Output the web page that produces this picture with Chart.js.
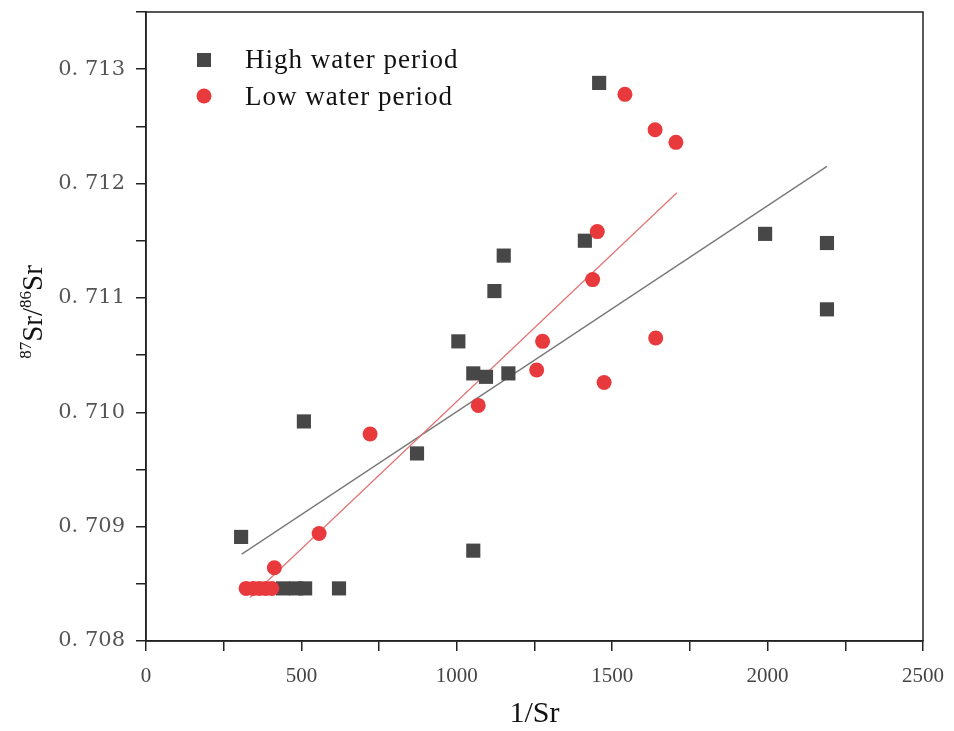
<!DOCTYPE html>
<html>
<head>
<meta charset="utf-8">
<script src="https://cdn.jsdelivr.net/npm/chart.js@4.4.1/dist/chart.umd.min.js"></script>
<style>
html,body{margin:0;padding:0;background:#fff;}
#wrap{width:954px;height:731px;}
</style>
</head>
<body>
<div id="wrap"><canvas id="c" width="954" height="731"></canvas></div>
<script>
// ---- data ----
const seriesNames = ["High water period", "Low water period"];
const highX = [306, 508, 441, 483, 512, 621, 1053, 872, 1005, 1053, 1094, 1166, 1121, 1151, 1412, 1458, 1992, 2191, 2191];
const highY = [0.70891, 0.70992, 0.70846, 0.70846, 0.70846, 0.70846, 0.70879, 0.70964, 0.71062, 0.71034, 0.71031, 0.71034, 0.71106, 0.71137, 0.71150, 0.71288, 0.71156, 0.71148, 0.71090];
const lowX = [322, 345, 365, 385, 405, 413, 557, 721, 1069, 1257, 1276, 1474, 1640, 1437, 1452, 1541, 1638, 1705];
const lowY = [0.70846, 0.70846, 0.70846, 0.70846, 0.70846, 0.70864, 0.70894, 0.70981, 0.71006, 0.71037, 0.71062, 0.71026, 0.71065, 0.71116, 0.71158, 0.71278, 0.71247, 0.71236];
const highFitX = [308, 2191];
const highFitY = [0.70876, 0.71215];
const lowFitX = [335, 1708];
const lowFitY = [0.70838, 0.71192];
const xTickValues = [0, 500, 1000, 1500, 2000, 2500];
const yTickValues = [0.708, 0.709, 0.710, 0.711, 0.712, 0.713];

const toPts = (xs, ys) => xs.map((x, i) => ({x: x, y: ys[i]}));

const HIGH_COLOR = '#474747';
const LOW_COLOR = '#e8393c';

const frame = {
  id: 'frame',
  afterDatasetsDraw(chart) {
    const {ctx, chartArea: a} = chart;
    ctx.save();
    ctx.strokeStyle = '#222';
    ctx.lineWidth = 1.5;
    ctx.strokeRect(a.left, a.top, a.right - a.left, a.bottom - a.top);

    // legend
    ctx.fillStyle = HIGH_COLOR;
    ctx.fillRect(197, 53, 14, 14);
    ctx.fillStyle = LOW_COLOR;
    ctx.beginPath(); ctx.arc(204, 96, 7.5, 0, Math.PI * 2); ctx.fill();
    ctx.fillStyle = '#111';
    ctx.font = '27px "Liberation Serif"';
    ctx.letterSpacing = '1px';
    ctx.textAlign = 'left';
    ctx.textBaseline = 'alphabetic';
    ctx.fillText(seriesNames[0], 245, 68);
    ctx.fillText(seriesNames[1], 245, 105);
    ctx.letterSpacing = '0px';

    // x title
    ctx.textAlign = 'center';
    ctx.font = '30px "Liberation Serif"';
    ctx.fillText('1/Sr', (a.left + a.right) / 2, 722);

    // y title with superscripts
    ctx.translate(32, 312);
    ctx.rotate(-Math.PI / 2);
    const parts = [['87', 17, -11], ['Sr/', 29, 0], ['86', 17, -11], ['Sr', 29, 0]];
    let w = 0;
    parts.forEach(p => { ctx.font = p[1] + 'px "Liberation Serif"'; w += ctx.measureText(p[0]).width; });
    let x = -w / 2;
    ctx.textAlign = 'left';
    parts.forEach(p => {
      ctx.font = p[1] + 'px "Liberation Serif"';
      ctx.fillText(p[0], x, 10 + p[2]);
      x += ctx.measureText(p[0]).width;
    });
    ctx.restore();
  }
};

new Chart(document.getElementById('c'), {
  type: 'scatter',
  data: {
    datasets: [
      {label: 'High fit', data: toPts(highFitX, highFitY), showLine: true, borderColor: '#777', borderWidth: 1.3, pointRadius: 0, order: 3},
      {label: 'Low fit', data: toPts(lowFitX, lowFitY), showLine: true, borderColor: '#e27272', borderWidth: 1.2, pointRadius: 0, order: 2},
      {label: seriesNames[0], data: toPts(highX, highY), pointStyle: 'rect', pointRadius: 10, backgroundColor: HIGH_COLOR, borderColor: HIGH_COLOR, borderWidth: 0, order: 1},
      {label: seriesNames[1], data: toPts(lowX, lowY), pointStyle: 'circle', pointRadius: 7.5, backgroundColor: LOW_COLOR, borderColor: LOW_COLOR, borderWidth: 0, order: 0}
    ]
  },
  options: {
    responsive: false,
    animation: false,
    layout: {padding: {left: 0, right: 31, top: 12, bottom: 0}},
    plugins: {legend: {display: false}, tooltip: {enabled: false}},
    scales: {
      x: {
        type: 'linear', min: 0, max: 2500,
        afterFit: s => { s.height = 90; s.paddingLeft = 0; s.paddingRight = 0; },
        ticks: {
          stepSize: 250, autoSkip: false, maxRotation: 0, padding: 13,
          color: '#444', font: {family: '"Liberation Serif"', size: 21},
          callback: v => xTickValues.includes(v) ? String(v) : ''
        },
        grid: {drawOnChartArea: false, drawTicks: true, tickLength: 10, color: '#222', lineWidth: 1.5},
        border: {color: '#222', width: 1.5}
      },
      y: {
        type: 'linear', min: 0.708, max: 0.7135,
        afterFit: s => { s.width = 146; s.paddingTop = 0; s.paddingBottom = 0; },
        ticks: {
          stepSize: 0.0005, autoSkip: false, padding: 11,
          color: '#555', font: {family: '"DejaVu Serif"', size: 21},
          callback: v => {
            const m = Math.round(v * 10000);
            return (m % 10 === 0) ? '0. ' + (m / 10).toFixed(0).slice(-3) : '';
          }
        },
        grid: {drawOnChartArea: false, drawTicks: true, tickLength: 10, color: '#222', lineWidth: 1.5},
        border: {color: '#222', width: 1.5}
      }
    }
  },
  plugins: [frame]
});
</script>
</body>
</html>
